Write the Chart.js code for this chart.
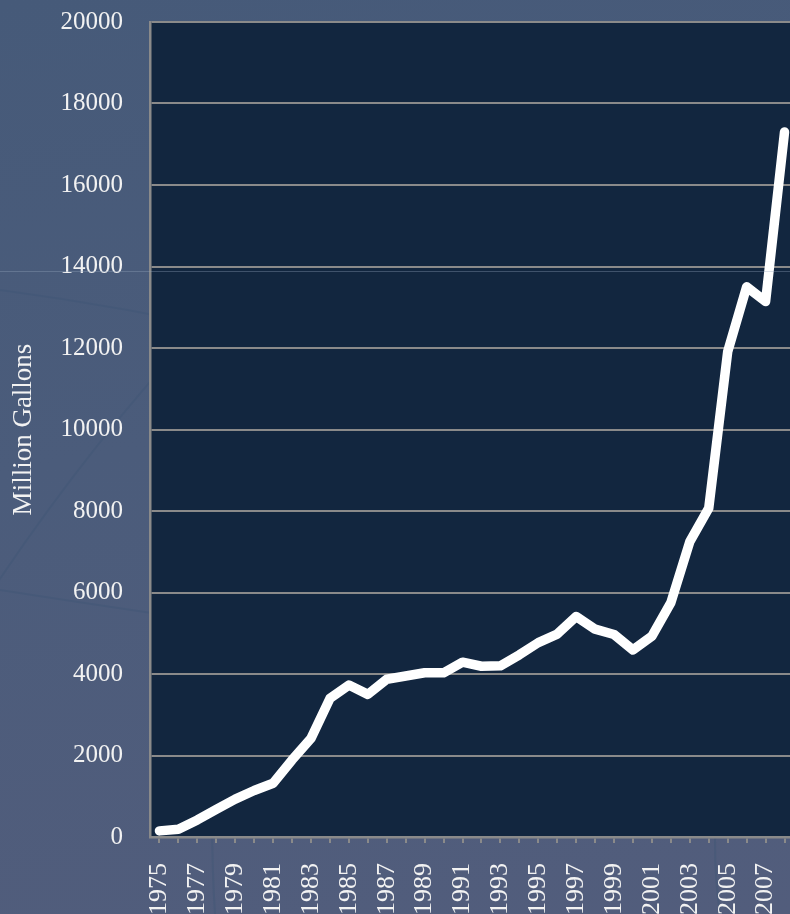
<!DOCTYPE html>
<html>
<head>
<meta charset="utf-8">
<script src="https://cdn.jsdelivr.net/npm/chart.js@4/dist/chart.umd.min.js"></script>
<style>
  html, body { margin: 0; padding: 0; overflow: hidden; }
  body {
    width: 790px; height: 914px; position: relative;
    background: linear-gradient(170deg, #465a79 0%, #4b5c7b 45%, #525d7c 100%);
  }
  #deco { position: absolute; left: 0; top: 0; }
  #wrap { position: absolute; left: 0; top: 0; width: 800px; height: 914px; }
  #seam { position: absolute; left: 0; top: 271px; width: 790px; height: 1px; background: rgba(150,165,190,0.35); }
</style>
</head>
<body>
<svg id="deco" width="790" height="914">
  <g fill="none" stroke="#405676" stroke-width="2" opacity="0.45">
    <path d="M -40 640 Q 200 260 520 60"/>
    <path d="M 0 290 Q 300 330 620 440"/>
    <path d="M 0 590 Q 320 640 790 700"/>
    <path d="M 230 560 Q 205 760 215 914"/>
    <path d="M 760 560 Q 700 780 720 914"/>
  </g>
</svg>
<div id="wrap"><canvas id="fuelChart" width="800" height="914"></canvas></div>
<div id="seam"></div>
<script>
const years = ['1975', '1976', '1977', '1978', '1979', '1980', '1981', '1982', '1983', '1984',
    '1985', '1986', '1987', '1988', '1989', '1990', '1991', '1992', '1993', '1994',
    '1995', '1996', '1997', '1998', '1999', '2000', '2001', '2002', '2003', '2004',
    '2005', '2006', '2007', '2008'];
const gallons = [150, 190, 420, 680, 930, 1140, 1320, 1890, 2420, 3400,
    3730, 3500, 3870, 3950, 4030, 4030, 4290, 4190, 4200, 4470,
    4770, 4980, 5410, 5100, 4970, 4590, 4930, 5750, 7250, 8070,
    11910, 13500, 13140, 17300];
const yTitle = 'Million Gallons';

const serif = "'Liberation Serif', 'DejaVu Serif', serif";
const gridGray = '#8a8a8a';

// navy fill behind the plot area
const plotFill = {
    id: 'plotFill',
    beforeDraw(chart) {
        const {ctx, chartArea} = chart;
        ctx.save();
        ctx.fillStyle = '#12263f';
        ctx.fillRect(chartArea.left, chartArea.top, chartArea.right - chartArea.left, chartArea.bottom - chartArea.top);
        ctx.restore();
    }
};

const ctx = document.getElementById('fuelChart').getContext('2d');
new Chart(ctx, {
    type: 'line',
    data: {
        labels: years,
        datasets: [{
            data: gallons,
            borderColor: '#ffffff',
            borderWidth: 9.5,
            borderCapStyle: 'round',
            borderJoinStyle: 'round',
            pointRadius: 0,
            tension: 0,
            fill: false
        }]
    },
    options: {
        responsive: false,
        animation: false,
        layout: { padding: { top: 22, right: 6, left: 0, bottom: 0 } },
        plugins: {
            legend: { display: false },
            tooltip: { enabled: false }
        },
        scales: {
            x: {
                offset: true,
                grid: {
                    offset: false,
                    drawOnChartArea: false,
                    drawTicks: true,
                    tickLength: 6,
                    tickColor: gridGray,
                    lineWidth: 2
                },
                border: { display: true, color: gridGray, width: 2.5 },
                ticks: {
                    autoSkip: false,
                    maxRotation: 90,
                    minRotation: 90,
                    padding: 20,
                    color: '#f2f2f2',
                    font: { family: serif, size: 26 },
                    callback: (v, i) => (i % 2 === 0 ? years[i] : '')
                },
                afterFit: scale => {
                    scale.height = 77;
                    scale.paddingLeft = 0;
                    scale.paddingRight = 0;
                }
            },
            y: {
                min: 0,
                max: 20000,
                grid: {
                    color: gridGray,
                    lineWidth: 2,
                    drawTicks: false
                },
                border: { display: true, color: gridGray, width: 2.5 },
                ticks: {
                    stepSize: 2000,
                    padding: 27,
                    color: '#f2f2f2',
                    font: { family: serif, size: 25 },
                    callback: v => String(v)
                },
                title: {
                    display: true,
                    text: yTitle,
                    color: '#f2f2f2',
                    font: { family: serif, size: 27 },
                    padding: { top: 8, bottom: 0 }
                },
                afterFit: scale => {
                    scale.width = 150;
                    scale.paddingTop = 0;
                    scale.paddingBottom = 0;
                }
            }
        }
    },
    plugins: [plotFill]
});
</script>
</body>
</html>
